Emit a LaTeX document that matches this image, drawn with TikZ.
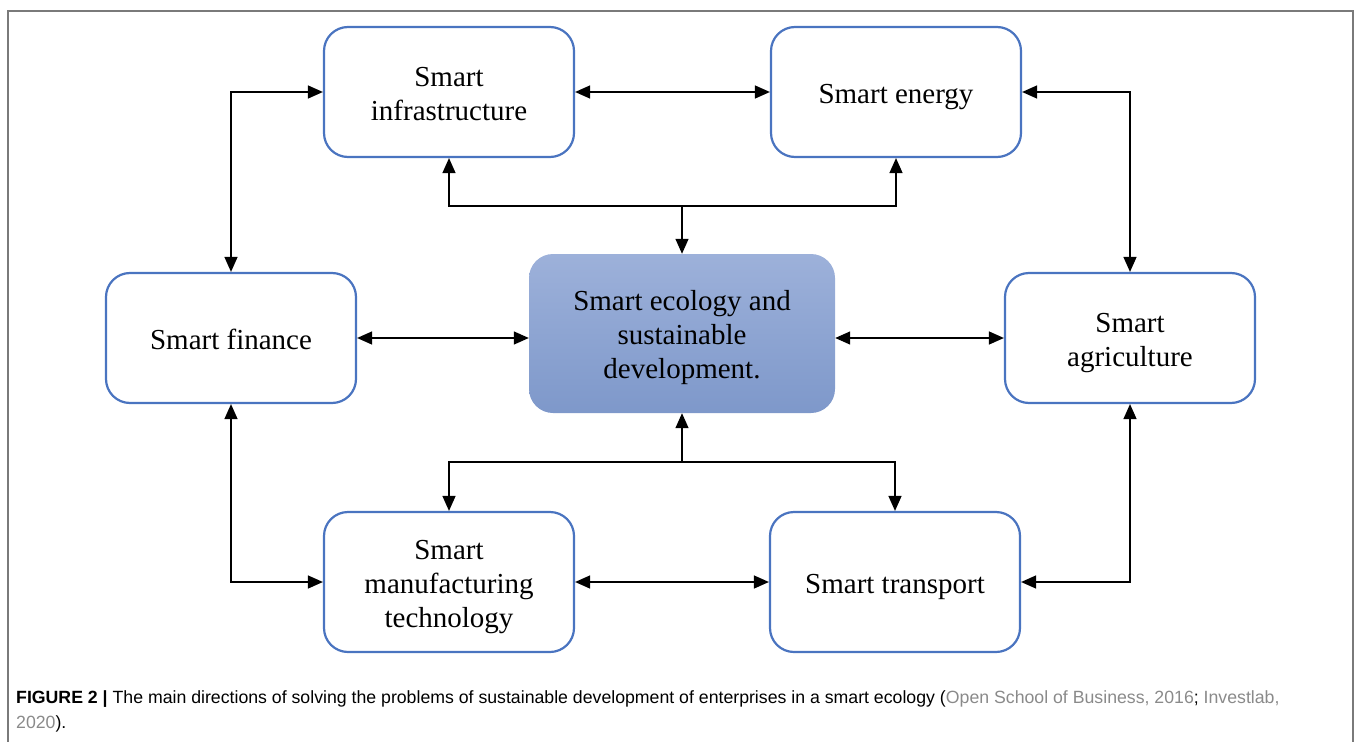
\documentclass[tikz,border=0pt]{standalone}
\usepackage{fontspec}
\setmainfont{Liberation Serif}
\newfontfamily\capfont{Liberation Sans}
\usetikzlibrary{arrows.meta,shadings}
\definecolor{boxblue}{HTML}{4A74C0}
\definecolor{ecotop}{HTML}{9DB1DA}
\definecolor{ecobot}{HTML}{7E98CA}
\definecolor{framegray}{HTML}{7A7A7A}
\definecolor{refgray}{HTML}{8A8A8A}
% lines of a box, each with a strut, set a little low
\newcommand{\boxlines}[1]{\raisebox{-4.5pt}[\height][\depth]{\begin{tabular}{@{}c@{}}#1\end{tabular}}}
\begin{document}
\begin{tikzpicture}%
	[x=1pt, y=-1pt,
	box/.style={draw=boxblue, line width=2.2pt, rounded corners=24pt, fill=white,
		minimum width=250pt, minimum height=130pt, inner sep=0pt,
		font=\fontsize{29}{34}\selectfont},
	hub/.style={rounded corners=24pt, top color=ecotop, bottom color=ecobot,
		minimum width=306pt, minimum height=159pt, inner sep=0pt,
		font=\fontsize{29}{34}\selectfont},
	link/.style={line width=1.4pt, {Triangle[length=15pt,width=13pt]}-{Triangle[length=15pt,width=13pt]}},
	onelink/.style={line width=1.4pt, -{Triangle[length=15pt,width=13pt]}}]
%
\useasboundingbox (0,0) rectangle (1356,741);
%% frame
\draw[framegray, line width=1.2pt] (8,745) -- (8,11) -- (1353,11) -- (1353,745);
%%
%% Nodes
%%
\node[box] (infra) at (449,92) {\boxlines{Smart\\infrastructure}};
\node[box] (energy) at (896,92) {\boxlines{Smart energy}};
\node[box] (finance) at (231,338) {\boxlines{Smart finance}};
\node[hub] (eco) at (682,333.5) {\boxlines{Smart ecology and\\sustainable\\development.}};
\node[box] (agri) at (1130,338) {\boxlines{Smart\\agriculture}};
\node[box, minimum height=140pt] (manuf) at (449,582) {\boxlines{Smart\\manufacturing\\technology}};
\node[box, minimum height=140pt] (trans) at (895,582) {\boxlines{Smart transport}};
%%
%% Junctions
%%
\coordinate (topj) at (682,206);
\coordinate (botj) at (682,462);
%%
%% Connectors
%%
\draw[link] (infra) -- (energy);
\draw[link] (finance.north) |- (infra.west);
\draw[link] (energy.east) -| (agri.north);
\draw[link] (finance.east) -- (finance.east -| eco.west);
\draw[link] (agri.west -| eco.east) -- (agri.west);
\draw[link] (finance.south) |- (manuf.west);
\draw[link] (agri.south) |- (trans.east);
\draw[link] (manuf) -- (trans);
\draw[link] (infra.south) |- (topj) -| (energy.south);
\draw[onelink] (topj) -- (eco.north);
\draw[link] (manuf.north) |- (botj) -| (trans.north);
\draw[onelink] (botj) -- (eco.south);
%%
%% Caption
%%
\node[anchor=base west, inner sep=0pt, font=\capfont\fontsize{17.7}{25}\selectfont,
	align=left] (caption) at (16,728)
	{\textbf{FIGURE 2 |} The main directions of solving the problems of sustainable development of enterprises in a smart ecology (\textcolor{refgray}{Open School of Business, 2016}; \textcolor{refgray}{Investlab,}\\
	\textcolor{refgray}{2020}).};
\end{tikzpicture}
\end{document}
